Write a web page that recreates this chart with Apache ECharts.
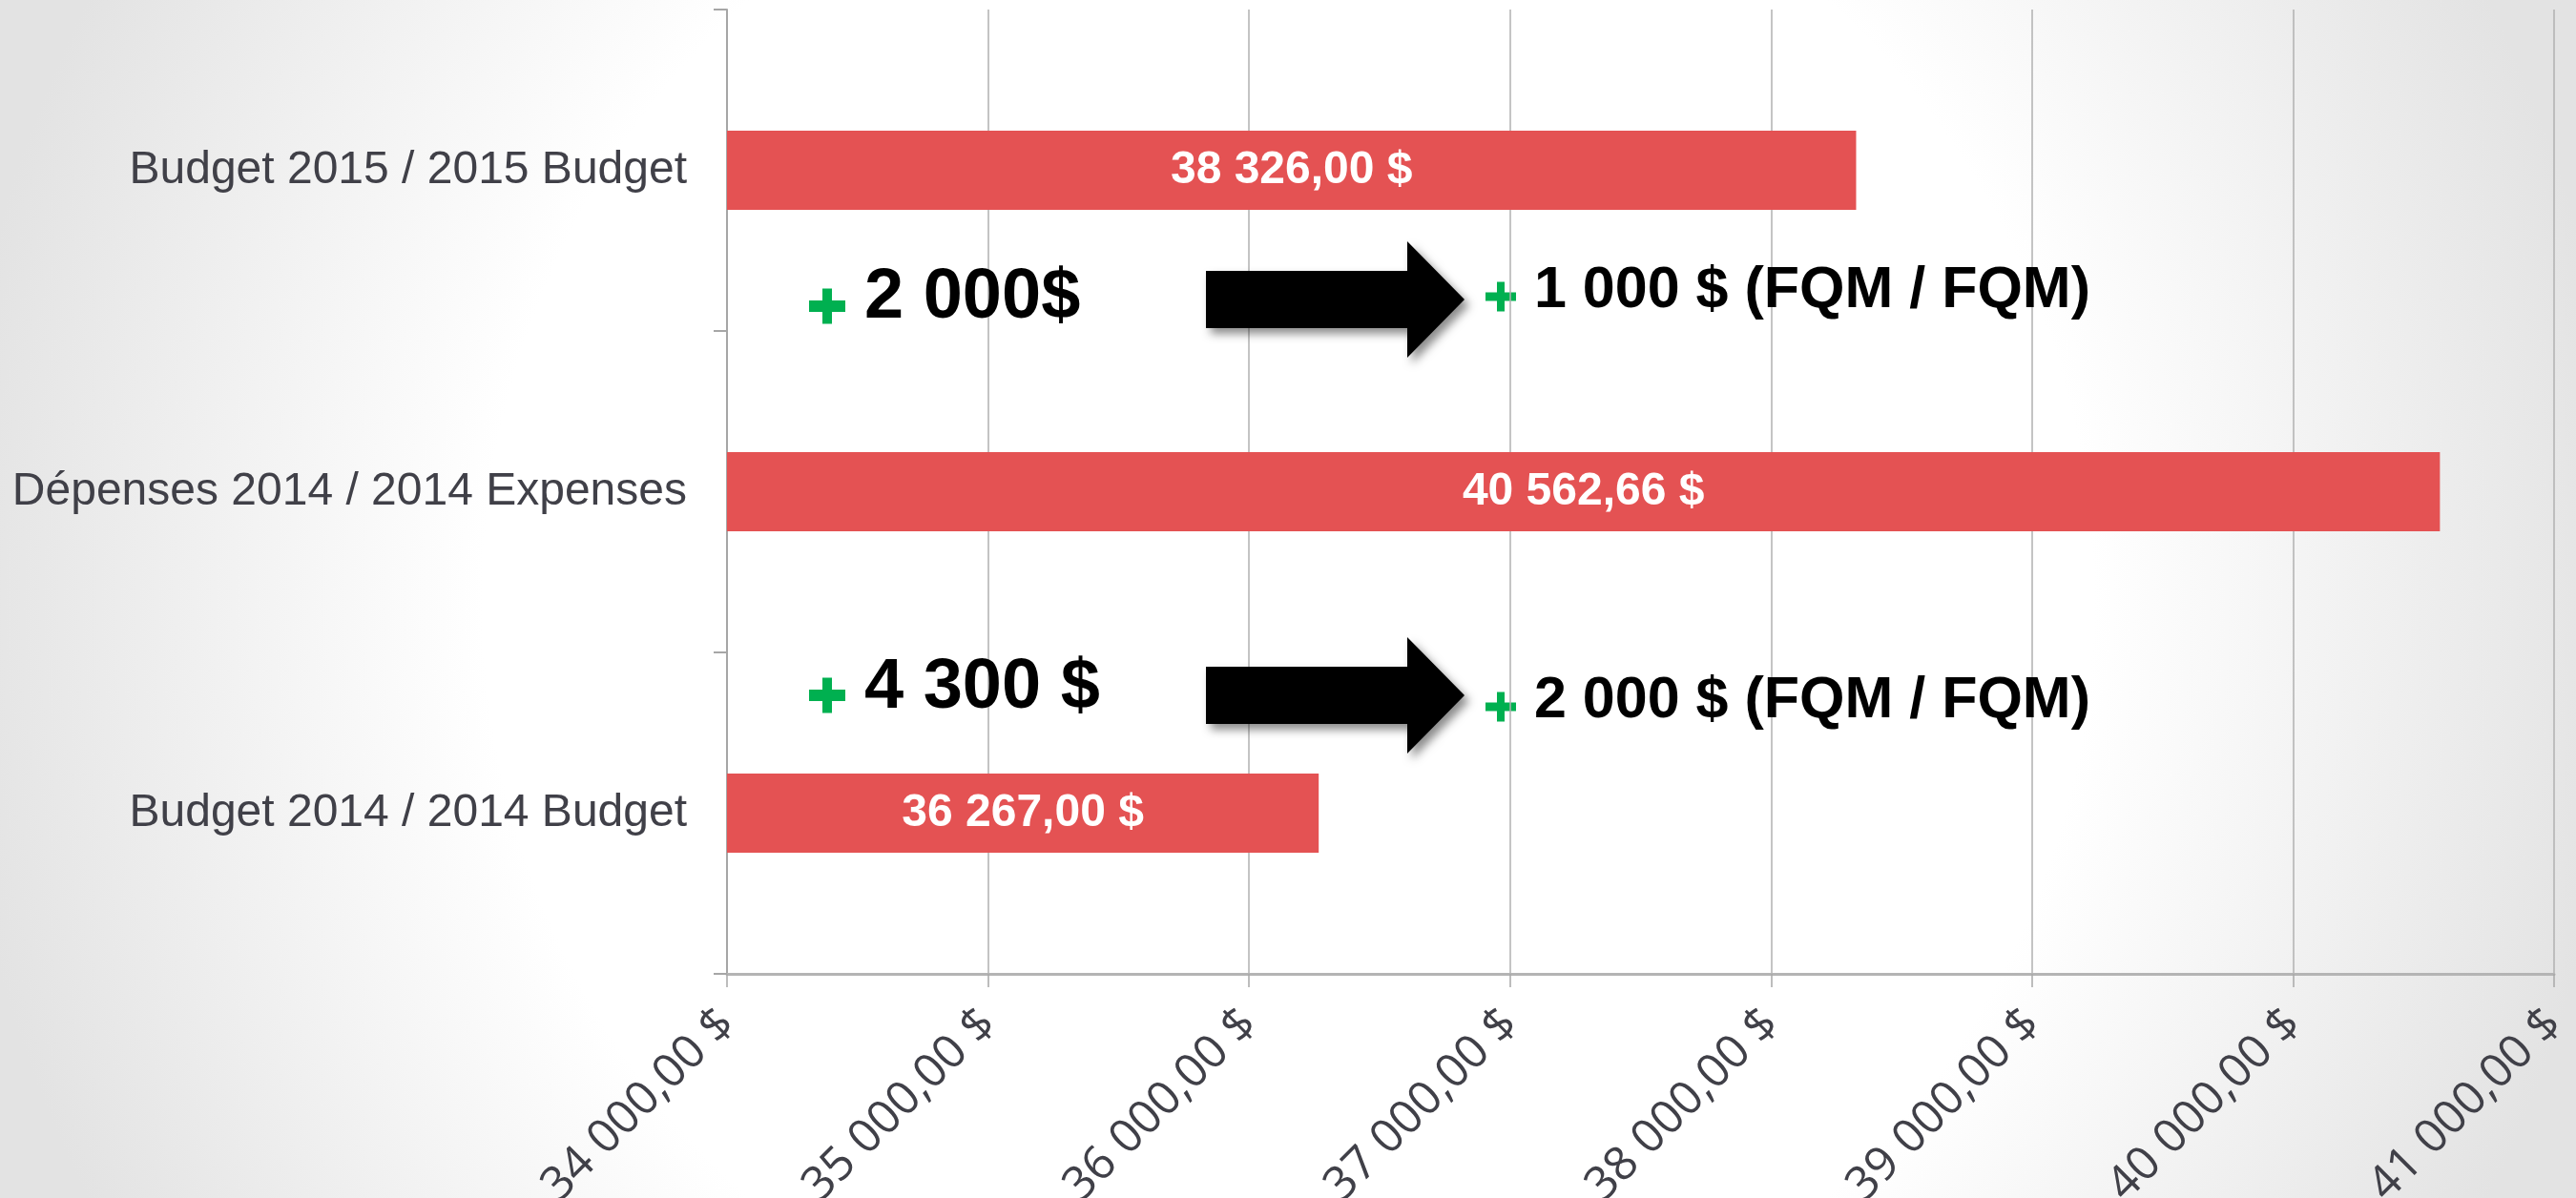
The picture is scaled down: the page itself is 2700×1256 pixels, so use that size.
<!DOCTYPE html>
<html>
<head>
<meta charset="utf-8">
<script src="https://cdn.jsdelivr.net/npm/echarts@6/dist/echarts.min.js"></script>
<style>
html, body { margin: 0; padding: 0; }
#chart { width: 2700px; height: 1256px; }
</style>
</head>
<body>
<div id="chart"></div>
<script>
// données
var categories = ['Budget 2014 / 2014 Budget', 'Dépenses 2014 / 2014 Expenses', 'Budget 2015 / 2015 Budget'];
var amounts = [36267, 40562.66, 38326];
var axisMin = 34000;
var axisMax = 41000;
var axisStep = 1000;
var increaseNotes = ['4 300 $', '2 000$'];          // bas, haut
var fqmNotes = ['2 000 $ (FQM / FQM)', '1 000 $ (FQM / FQM)'];

var FONT = '"Liberation Sans", Arial, sans-serif';

function money(v) {
    var p = Number(v).toFixed(2).split('.');
    return p[0].replace(/\B(?=(\d{3})+(?!\d))/g, ' ') + ',' + p[1] + ' $';
}

function arrow(x0, yc) {
    // flèche pleine noire
    return {
        type: 'polygon',
        z: 50,
        shape: {
            points: [
                [x0, yc - 30], [x0 + 211, yc - 30], [x0 + 211, yc - 61],
                [x0 + 271, yc], [x0 + 211, yc + 61], [x0 + 211, yc + 30], [x0, yc + 30]
            ]
        },
        style: {
            fill: '#000',
            shadowBlur: 10,
            shadowOffsetX: 5,
            shadowOffsetY: 6,
            shadowColor: 'rgba(0,0,0,0.45)'
        }
    };
}

function plus(cx, cy, w, h, tv, th) {
    return {
        type: 'group',
        z: 50,
        children: [
            { type: 'rect', shape: { x: cx - w / 2, y: cy - th / 2, width: w, height: th }, style: { fill: '#00b050' } },
            { type: 'rect', shape: { x: cx - tv / 2, y: cy - h / 2, width: tv, height: h }, style: { fill: '#00b050' } }
        ]
    };
}

function note(txt, x, y, size) {
    return {
        type: 'text',
        z: 50,
        style: {
            text: txt, x: x, y: y,
            font: 'bold ' + size + 'px ' + FONT,
            fill: '#000',
            textAlign: 'left', textVerticalAlign: 'middle',
            align: 'left', verticalAlign: 'middle'
        }
    };
}

var myChart = echarts.init(document.getElementById('chart'));
var option = {
    animation: false,
    graphic: [
        {
            type: 'rect',
            z: -100,
            silent: true,
            shape: { x: 0, y: 0, width: 2700, height: 1256 },
            style: {
                fill: {
                    type: 'radial', x: 0.5, y: 0.5, r: 1.12,
                    colorStops: [
                        { offset: 0, color: '#ffffff' },
                        { offset: 0.6, color: '#ffffff' },
                        { offset: 1, color: '#e3e3e3' }
                    ]
                }
            }
        },
        plus(867, 321, 38, 37, 10, 12),
        note(increaseNotes[1], 906, 313, 74),
        arrow(1264, 314),
        plus(1573, 311, 32, 31, 8, 9),
        note(fqmNotes[1], 1608, 305, 61),

        plus(867, 729, 38, 37, 10, 12),
        note(increaseNotes[0], 906, 722, 74),
        arrow(1264, 729),
        plus(1573, 741, 32, 31, 8, 9),
        note(fqmNotes[0], 1608, 735, 61)
    ],
    grid: {
        left: 762,
        right: 23,
        top: 10,
        bottom: 235,
        containLabel: false,
        outerBoundsMode: 'none'
    },
    xAxis: {
        type: 'value',
        min: axisMin,
        max: axisMax,
        interval: axisStep,
        axisLine: { show: true, lineStyle: { color: '#b4b4b4', width: 3 } },
        axisTick: { show: true, length: 14, lineStyle: { color: '#a8a8a8', width: 1.5 } },
        splitLine: { show: true, lineStyle: { color: '#b0b0b0', width: 1.5 } },
        axisLabel: {
            rotate: 45,
            margin: 45,
            color: '#404048',
            fontSize: 49,
            fontFamily: '"Open Sans", "Liberation Sans", sans-serif',
            formatter: money
        }
    },
    yAxis: {
        type: 'category',
        data: categories,
        axisLine: { show: true, lineStyle: { color: '#a6a6a6', width: 2 } },
        axisTick: { show: true, length: 14, lineStyle: { color: '#a6a6a6', width: 2 } },
        splitLine: { show: false },
        axisLabel: {
            margin: 42,
            color: '#404048',
            fontSize: 48,
            fontFamily: FONT
        }
    },
    series: [
        {
            type: 'bar',
            data: amounts,
            barWidth: '24.6%',
            itemStyle: { color: '#e45253' },
            label: {
                show: true,
                position: 'inside',
                color: '#fff',
                fontSize: 48,
                fontWeight: 'bold',
                fontFamily: FONT,
                formatter: function (p) { return money(p.value); }
            }
        }
    ]
};
myChart.setOption(option);
</script>
</body>
</html>
